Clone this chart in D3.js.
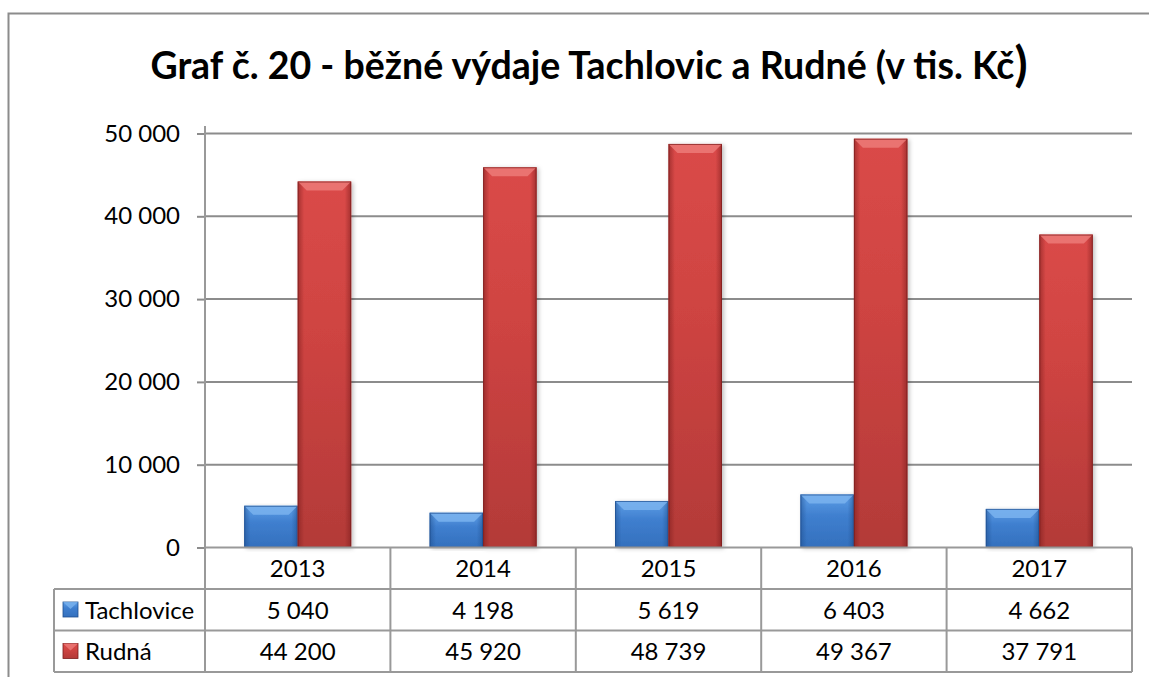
<!DOCTYPE html>
<html>
<head>
<meta charset="utf-8">
<script src="https://cdn.jsdelivr.net/npm/d3@7"></script>
<style>
  body { margin: 0; background: #fff; }
  svg { display: block; font-family: Lato, "Open Sans", sans-serif; }
</style>
</head>
<body>
<svg id="chart" width="1149" height="677"></svg>
<script>
// data
var years = ["2013", "2014", "2015", "2016", "2017"];
var seriesNames = ["Tachlovice", "Rudná"];
var tachlovice = [5040, 4198, 5619, 6403, 4662];
var rudna = [44200, 45920, 48739, 49367, 37791];
var yTicks = [0, 10000, 20000, 30000, 40000, 50000];
var titleText = "Graf č. 20 - běžné výdaje Tachlovic a Rudné (v tis. Kč";

var seriesValues = [tachlovice, rudna];

var svg = d3.select("#chart");
var defs = svg.append("defs");

// czech number format: space as thousands separator
var fmt = d3.formatLocale({ decimal: ",", thousands: " ", grouping: [3], currency: ["", " Kč"] }).format(",d");

var plotLeft = 205, plotRight = 1132, plotTop = 133.5, base = 547.5;
var rowH = 41.5;
var fontSize = 24;

var x = d3.scaleBand().domain(years).range([plotLeft, plotRight]);
var xs = d3.scaleBand().domain(seriesNames).range([0, x.bandwidth()]).paddingInner(0).paddingOuter(0.733);
var y = d3.scaleLinear().domain([0, 50000]).range([base, plotTop]);

var palette = {
  "Tachlovice": { top: "#5f9fe6", mid: "#3f7fcf", bot: "#3470bd", edge: "#1f4f8f", bevel: "#7ab3ee" },
  "Rudná": { top: "#da4a48", mid: "#cf4442", bot: "#b33a38", edge: "#7a1c1c", bevel: "#ec7a78" }
};

// gradients for bar bodies
seriesNames.forEach(function(s, i) {
  var g = defs.append("linearGradient").attr("id", "grad" + i)
    .attr("x1", 0).attr("y1", 0).attr("x2", 0).attr("y2", 1);
  g.append("stop").attr("offset", "0%").attr("stop-color", palette[s].top);
  g.append("stop").attr("offset", "40%").attr("stop-color", palette[s].mid);
  g.append("stop").attr("offset", "100%").attr("stop-color", palette[s].bot);
  var h = defs.append("linearGradient").attr("id", "side" + i)
    .attr("x1", 0).attr("y1", 0).attr("x2", 1).attr("y2", 0);
  h.append("stop").attr("offset", "0%").attr("stop-color", palette[s].edge).attr("stop-opacity", 0.55);
  h.append("stop").attr("offset", "12%").attr("stop-color", palette[s].edge).attr("stop-opacity", 0);
  h.append("stop").attr("offset", "88%").attr("stop-color", palette[s].edge).attr("stop-opacity", 0);
  h.append("stop").attr("offset", "100%").attr("stop-color", palette[s].edge).attr("stop-opacity", 0.55);
});

var shadow = defs.append("filter").attr("id", "shadow").attr("x", "-20%").attr("y", "-5%").attr("width", "150%").attr("height", "115%");
shadow.append("feDropShadow").attr("dx", 2).attr("dy", 1).attr("stdDeviation", 2).attr("flood-color", "#000").attr("flood-opacity", 0.25);

// outer chart border
svg.append("path")
  .attr("d", "M8.5,677 L8.5,13.5 L1149,13.5")
  .attr("fill", "none").attr("stroke", "#8c8c8c").attr("stroke-width", 2);

// title (closing bracket drawn larger, like the original)
var title = svg.append("text")
  .attr("x", 589).attr("y", 79)
  .attr("text-anchor", "middle")
  .attr("font-weight", "bold")
  .attr("font-size", 37.5)
  .attr("fill", "#000");
title.append("tspan").text(titleText);
title.append("tspan").attr("font-size", 48).attr("dy", 2).text(")");

// gridlines
svg.append("g").selectAll("line")
  .data(yTicks.filter(function(d) { return d > 0; }))
  .enter().append("line")
  .attr("x1", plotLeft).attr("x2", plotRight)
  .attr("y1", function(d) { return y(d); }).attr("y2", function(d) { return y(d); })
  .attr("stroke", "#8c8c8c").attr("stroke-width", 2);

// y axis
var yAxis = svg.append("g")
  .attr("transform", "translate(" + plotLeft + ",0)")
  .call(d3.axisLeft(y).tickValues(yTicks).tickFormat(fmt).tickSize(8).tickPadding(17));
yAxis.select(".domain").remove();
yAxis.selectAll(".tick line").attr("stroke", "#8c8c8c").attr("stroke-width", 2);
yAxis.selectAll(".tick text").attr("font-family", "Lato, sans-serif").attr("font-size", fontSize).attr("fill", "#000");

// bars
seriesNames.forEach(function(s, si) {
  var vals = seriesValues[si];
  var g = svg.append("g").attr("class", "series");
  var bars = g.selectAll("g.bar").data(years).enter().append("g").attr("class", "bar");
  bars.each(function(yr, i) {
    var bx = x(yr) + xs(s), bw = xs.bandwidth();
    var by = y(vals[i]), bh = base - by;
    var b = Math.min(9, bh / 2);
    var el = d3.select(this);
    el.append("rect").attr("x", bx).attr("y", by).attr("width", bw).attr("height", bh)
      .attr("fill", "url(#grad" + si + ")").attr("filter", "url(#shadow)");
    el.append("rect").attr("x", bx).attr("y", by).attr("width", bw).attr("height", bh)
      .attr("fill", "url(#side" + si + ")");
    el.append("polygon")
      .attr("points", [[bx, by], [bx + bw, by], [bx + bw - b, by + b], [bx + b, by + b]].join(" "))
      .attr("fill", palette[s].bevel).attr("opacity", 0.85);
    el.append("rect").attr("x", bx + 0.5).attr("y", by + 0.5).attr("width", bw - 1).attr("height", bh - 1)
      .attr("fill", "none").attr("stroke", palette[s].edge).attr("stroke-width", 1).attr("stroke-opacity", 0.7);
  });
});

// data table
var table = svg.append("g").attr("stroke", "#999").attr("stroke-width", 2).attr("fill", "none");
table.append("line").attr("x1", plotLeft).attr("x2", plotRight).attr("y1", base).attr("y2", base);
[1, 2, 3].forEach(function(r) {
  table.append("line").attr("x1", 54).attr("x2", plotRight)
    .attr("y1", base + r * rowH).attr("y2", base + r * rowH);
});
table.append("line").attr("x1", 54).attr("x2", 54).attr("y1", base + rowH).attr("y2", base + 3 * rowH);
// axis line running from top of plot through the table
table.append("line").attr("x1", plotLeft).attr("x2", plotLeft).attr("y1", 126).attr("y2", base + 3 * rowH);
years.forEach(function(yr) {
  table.append("line").attr("x1", x(yr) + x.bandwidth()).attr("x2", x(yr) + x.bandwidth())
    .attr("y1", base).attr("y2", base + 3 * rowH);
});

var cellText = svg.append("g").attr("font-size", fontSize).attr("fill", "#000").attr("text-anchor", "middle");
cellText.selectAll("text.year").data(years).enter().append("text")
  .attr("x", function(d) { return x(d) + x.bandwidth() / 2; })
  .attr("y", base + rowH / 2 + 9)
  .text(function(d) { return d; });
seriesNames.forEach(function(s, si) {
  cellText.selectAll("text.v" + si).data(seriesValues[si]).enter().append("text")
    .attr("x", function(d, i) { return x(years[i]) + x.bandwidth() / 2; })
    .attr("y", base + rowH * (si + 1) + rowH / 2 + 9)
    .text(function(d) { return fmt(d); });
});

// legend keys inside the table
seriesNames.forEach(function(s, si) {
  var ky = base + rowH * (si + 1) + 13;
  var k = svg.append("g");
  k.append("rect").attr("x", 63).attr("y", ky).attr("width", 15).attr("height", 15)
    .attr("fill", "url(#grad" + si + ")").attr("stroke", palette[s].edge).attr("stroke-width", 0.8);
  k.append("polygon")
    .attr("points", [[63, ky], [78, ky], [70.5, ky + 7]].join(" "))
    .attr("fill", palette[s].bevel).attr("opacity", 0.8);
  svg.append("text").attr("x", 85).attr("y", base + rowH * (si + 1) + rowH / 2 + 9)
    .attr("font-size", fontSize).attr("fill", "#000").text(s);
});
</script>
</body>
</html>
